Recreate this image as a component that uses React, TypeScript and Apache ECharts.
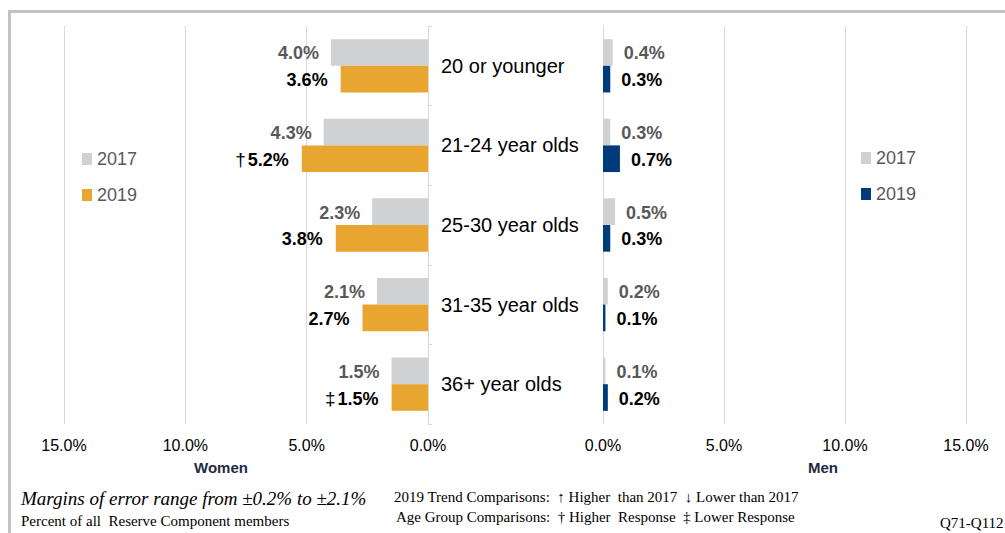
import React, { useEffect, useRef } from "react";
import * as echarts from "echarts";

const categories = ["20 or younger", "21-24 year olds", "25-30 year olds", "31-35 year olds", "36+ year olds"];
const women2017 = [4.0, 4.3, 2.3, 2.1, 1.5];
const women2019 = [3.6, 5.2, 3.8, 2.7, 1.5];
const women2019Marks = ["", "†", "", "", "‡"];
const men2017 = [0.4, 0.3, 0.5, 0.2, 0.1];
const men2019 = [0.3, 0.7, 0.3, 0.1, 0.2];
const axisTicks = [0, 5, 10, 15];

const SANS = "'Liberation Sans', Arial, sans-serif";
const SERIF = "'Liberation Serif', 'Times New Roman', serif";
const GRAY = "#d0d1d3";
const ORANGE = "#e8a530";
const NAVY = "#003b7a";
const GRID = "#d9d9d9";

export default function App() {
  const ref = useRef<HTMLDivElement>(null);
  useEffect(() => {
    if (!ref.current) return;
    const chart = echarts.init(ref.current, null, { renderer: "svg" });
    const pct = (v: number) => `${v.toFixed(1)}%`;
    const xCommon = {
      type: "value",
      min: axisTicks[0],
      max: axisTicks[axisTicks.length - 1],
      interval: 5,
      axisLine: { show: false },
      axisTick: { show: false },
      splitLine: { show: true, lineStyle: { color: GRID, width: 1 } },
      axisLabel: { formatter: (v: number) => pct(v), color: "#000", fontSize: 16, fontFamily: SANS, margin: 13 },
    };
    const barLabel = (color: string, pos: string, dist: number, marks?: string[]) => ({
      show: true,
      position: pos,
      distance: dist,
      offset: [0, 1],
      color,
      fontSize: 18,
      fontWeight: "bold",
      fontFamily: SANS,
      formatter: (p: any) => (marks && marks[p.dataIndex] ? `{m|${marks[p.dataIndex]}}` : "") + pct(p.value),
      rich: { m: { fontSize: 19, fontWeight: "normal", color: "#000", fontFamily: SANS, padding: [0, 2, 0, 0] } },
    });
    const legendCommon = {
      orient: "vertical",
      padding: 0,
      itemWidth: 10,
      itemHeight: 12,
      itemGap: 18,
      icon: "rect",
      textStyle: { color: "#595959", fontSize: 18, fontFamily: SANS },
    };
    chart.setOption({
      animation: false,
      backgroundColor: "#fff",
      grid: [
        { left: 64, width: 364, top: 26, height: 398 },
        { left: 603, width: 363, top: 26, height: 398 },
      ],
      xAxis: [
        { ...xCommon, gridIndex: 0, inverse: true },
        { ...xCommon, gridIndex: 1 },
      ],
      yAxis: [
        {
          type: "category",
          gridIndex: 0,
          data: categories,
          inverse: true,
          position: "right",
          axisLine: { show: true, lineStyle: { color: GRID } },
          axisTick: { show: true, length: 4, lineStyle: { color: GRID } },
          axisLabel: { color: "#000", fontSize: 20, fontFamily: SANS, margin: 13, align: "left" },
        },
        {
          type: "category",
          gridIndex: 1,
          data: categories,
          inverse: true,
          axisLine: { show: true, lineStyle: { color: GRID } },
          axisTick: { show: false },
          axisLabel: { show: false },
        },
      ],
      legend: [
        { ...legendCommon, left: 82, top: 150, data: ["2017", "2019"] },
        {
          ...legendCommon,
          left: 861,
          top: 149,
          data: ["2017 Men", "2019 Men"],
          formatter: (n: string) => n.slice(0, 4),
        },
      ],
      series: [
        {
          name: "2017",
          type: "bar",
          xAxisIndex: 0,
          yAxisIndex: 0,
          data: women2017,
          itemStyle: { color: GRAY },
          barGap: "0%",
          barCategoryGap: "33%",
          label: barLabel("#595959", "left", 12),
        },
        {
          name: "2019",
          type: "bar",
          xAxisIndex: 0,
          yAxisIndex: 0,
          data: women2019,
          itemStyle: { color: ORANGE },
          barGap: "0%",
          barCategoryGap: "33%",
          label: barLabel("#000", "left", 13, women2019Marks),
        },
        {
          name: "2017 Men",
          type: "bar",
          xAxisIndex: 1,
          yAxisIndex: 1,
          data: men2017,
          itemStyle: { color: GRAY },
          barGap: "0%",
          barCategoryGap: "33%",
          label: barLabel("#595959", "right", 11),
        },
        {
          name: "2019 Men",
          type: "bar",
          xAxisIndex: 1,
          yAxisIndex: 1,
          data: men2019,
          itemStyle: { color: NAVY },
          barGap: "0%",
          barCategoryGap: "33%",
          label: barLabel("#000", "right", 11),
        },
      ],
      graphic: [
        {
          type: "rect",
          shape: { x: 9.5, y: 11.5, width: 1100, height: 600 },
          style: { fill: "none", stroke: "#c3c3c3", lineWidth: 3 },
          silent: true,
          z: 100,
        },
        { type: "text", x: 221, y: 467, style: { text: "Women", fill: "#1f2a44", font: `bold 15px ${SANS}`, textAlign: "center", textVerticalAlign: "middle" } },
        { type: "text", x: 823, y: 467, style: { text: "Men", fill: "#1f2a44", font: `bold 15px ${SANS}`, textAlign: "center", textVerticalAlign: "middle" } },
        { type: "text", x: 21, y: 498, style: { text: "Margins of error range from ±0.2% to ±2.1%", fill: "#000", font: `italic 19px ${SERIF}`, textVerticalAlign: "middle" } },
        { type: "text", x: 21, y: 521, style: { text: "Percent of all  Reserve Component members", fill: "#000", font: `15px ${SERIF}`, textVerticalAlign: "middle" } },
        { type: "text", x: 394, y: 497, style: { text: "2019 Trend Comparisons:  ↑ Higher  than 2017  ↓ Lower than 2017", fill: "#000", font: `15px ${SERIF}`, textVerticalAlign: "middle" } },
        { type: "text", x: 396, y: 517, style: { text: "Age Group Comparisons:  † Higher  Response  ‡ Lower Response", fill: "#000", font: `15px ${SERIF}`, textVerticalAlign: "middle" } },
        { type: "text", x: 940, y: 523, style: { text: "Q71-Q112", fill: "#000", font: `15px ${SERIF}`, textVerticalAlign: "middle" } },
      ],
    });
    return () => chart.dispose();
  }, []);
  return <div ref={ref} style={{ position: "absolute", left: 0, top: 0, width: 1005, height: 533 }} />;
}
